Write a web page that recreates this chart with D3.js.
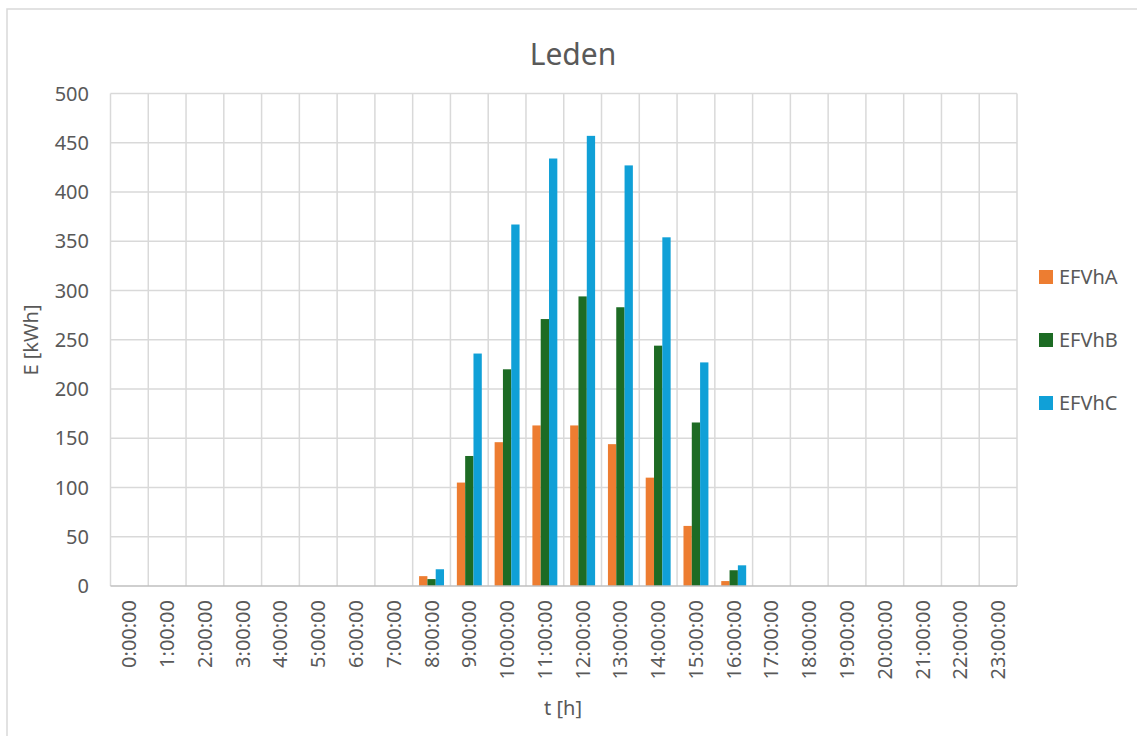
<!DOCTYPE html>
<html>
<head>
<meta charset="utf-8">
<script src="https://cdn.jsdelivr.net/npm/d3@7"></script>
<style>
  body { margin: 0; background: #fff; }
  text { font-family: "Noto Sans", sans-serif; fill: #595959; }
</style>
</head>
<body>
<svg class="chart" width="1137" height="736"></svg>
<script>
var hours = ["0:00:00", "1:00:00", "2:00:00", "3:00:00", "4:00:00", "5:00:00",
  "6:00:00", "7:00:00", "8:00:00", "9:00:00", "10:00:00", "11:00:00",
  "12:00:00", "13:00:00", "14:00:00", "15:00:00", "16:00:00", "17:00:00",
  "18:00:00", "19:00:00", "20:00:00", "21:00:00", "22:00:00", "23:00:00"];

var efvhA = [0, 0, 0, 0, 0, 0, 0, 0, 10, 105, 146, 163, 163, 144, 110, 61, 5, 0, 0, 0, 0, 0, 0, 0];
var efvhB = [0, 0, 0, 0, 0, 0, 0, 0, 7, 132, 220, 271, 294, 283, 244, 166, 16, 0, 0, 0, 0, 0, 0, 0];
var efvhC = [0, 0, 0, 0, 0, 0, 0, 0, 17, 236, 367, 434, 457, 427, 354, 227, 21, 0, 0, 0, 0, 0, 0, 0];

var seriesNames = ["EFVhA", "EFVhB", "EFVhC"];
var yTicks = [0, 50, 100, 150, 200, 250, 300, 350, 400, 450, 500];
var colors = ["#ED7D31", "#1D6B24", "#10A0D7"];

var svg = d3.select(".chart");
var series = [efvhA, efvhB, efvhC];

// chart frame
svg.append("rect")
  .attr("x", 7).attr("y", 9)
  .attr("width", 1140).attr("height", 740)
  .attr("fill", "none").attr("stroke", "#d9d9d9").attr("stroke-width", 1.5);

var plotLeft = 110.5, plotTop = 93.5, plotRight = 1017, plotBottom = 586;

var x0 = d3.scaleBand().domain(hours).range([plotLeft, plotRight])
  .paddingInner(0.34).paddingOuter(0.17);
var x1 = d3.scaleBand().domain(seriesNames).range([0, x0.bandwidth()]);
var y = d3.scaleLinear().domain([0, 500]).range([plotBottom, plotTop]);

var step = x0.step();

// horizontal grid
svg.append("g")
  .selectAll("line")
  .data(yTicks.filter(function (d) { return d > 0; }))
  .join("line")
  .attr("x1", plotLeft).attr("x2", plotRight)
  .attr("y1", function (d) { return y(d); })
  .attr("y2", function (d) { return y(d); })
  .attr("stroke", "#d9d9d9").attr("stroke-width", 1.5);

// vertical grid at category borders
svg.append("g")
  .selectAll("line")
  .data(d3.range(hours.length + 1))
  .join("line")
  .attr("x1", function (i) { return plotLeft + i * step; })
  .attr("x2", function (i) { return plotLeft + i * step; })
  .attr("y1", plotTop).attr("y2", plotBottom)
  .attr("stroke", "#d9d9d9").attr("stroke-width", 1.5);

// bars
series.forEach(function (vals, si) {
  svg.append("g")
    .selectAll("rect")
    .data(vals)
    .join("rect")
    .attr("x", function (d, i) { return x0(hours[i]) + x1(seriesNames[si]); })
    .attr("y", function (d) { return y(d); })
    .attr("width", x1.bandwidth())
    .attr("height", function (d) { return plotBottom - y(d); })
    .attr("fill", colors[si]);
});

// x axis line
svg.append("line")
  .attr("x1", plotLeft).attr("x2", plotRight)
  .attr("y1", plotBottom).attr("y2", plotBottom)
  .attr("stroke", "#bfbfbf").attr("stroke-width", 1.5);

// y tick labels
svg.append("g")
  .selectAll("text")
  .data(yTicks)
  .join("text")
  .attr("x", 89)
  .attr("y", function (d) { return y(d); })
  .attr("dy", "0.35em")
  .attr("text-anchor", "end")
  .style("font-size", "20px")
  .text(function (d) { return d; });

// x tick labels
svg.append("g")
  .selectAll("text")
  .data(hours)
  .join("text")
  .attr("transform", function (d) {
    return "translate(" + (x0(d) + x0.bandwidth() / 2) + ",600) rotate(-90)";
  })
  .attr("dy", "0.35em")
  .attr("text-anchor", "end")
  .style("font-size", "20px")
  .text(function (d) { return d; });

// titles
svg.append("text")
  .attr("x", 573).attr("y", 65)
  .attr("text-anchor", "middle")
  .style("font-size", "30px")
  .text("Leden");

svg.append("text")
  .attr("x", 563).attr("y", 715)
  .attr("text-anchor", "middle")
  .style("font-size", "20px")
  .text("t [h]");

svg.append("text")
  .attr("transform", "translate(38,340) rotate(-90)")
  .attr("text-anchor", "middle")
  .style("font-size", "20px")
  .text("E [kWh]");

// legend
var legend = svg.append("g")
  .selectAll("g")
  .data(seriesNames)
  .join("g")
  .attr("transform", function (d, i) { return "translate(1039," + (270 + i * 63) + ")"; });

legend.append("rect")
  .attr("width", 14).attr("height", 14)
  .attr("fill", function (d, i) { return colors[i]; });

legend.append("text")
  .attr("x", 20).attr("y", 14)
  .style("font-size", "20px")
  .text(function (d) { return d; });
</script>
</body>
</html>
